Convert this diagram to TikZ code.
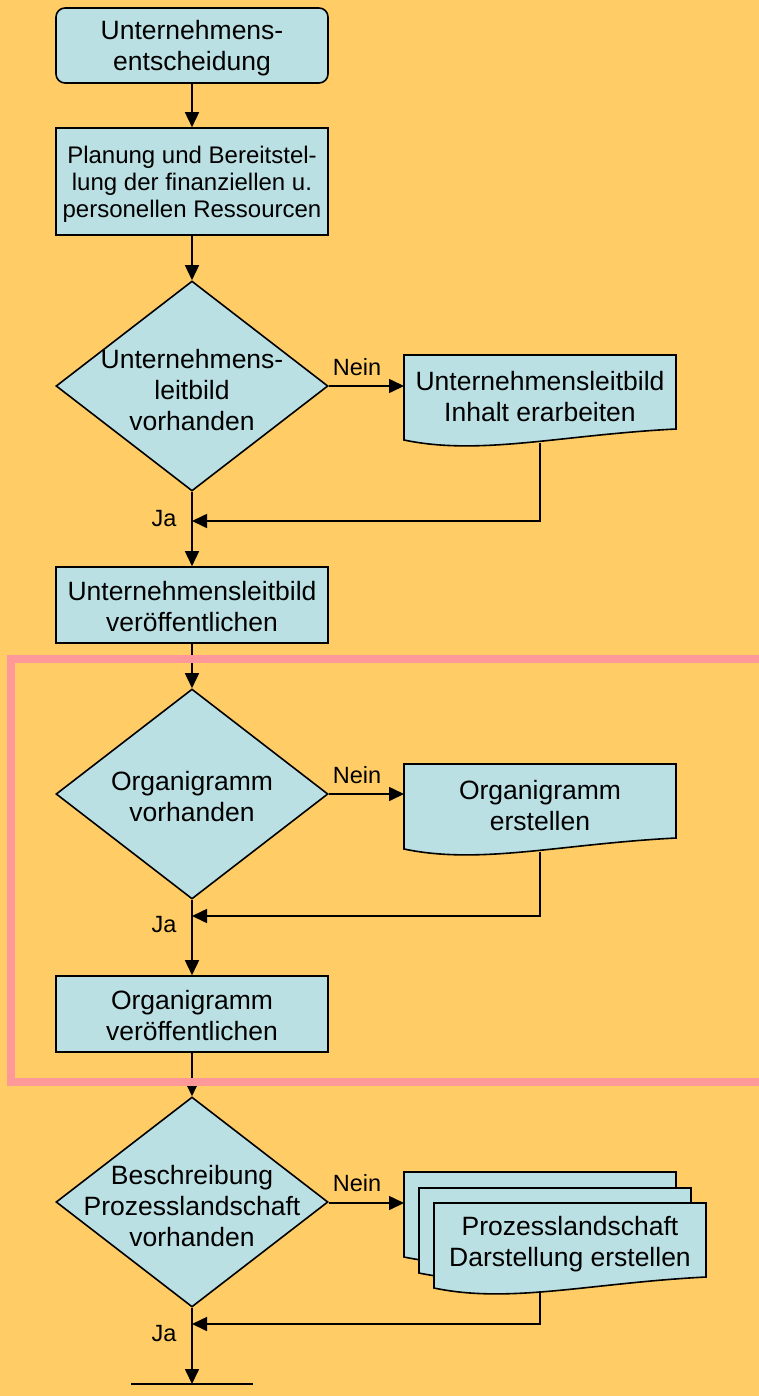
\documentclass[tikz,border=0pt]{standalone}
\usepackage{fontspec}
\setmainfont{Liberation Sans}
\usetikzlibrary{shapes.geometric,arrows.meta}
\definecolor{bgcol}{RGB}{255,204,102}
\definecolor{boxcol}{RGB}{187,224,227}
\definecolor{framecol}{RGB}{255,153,153}
\tikzset{
  big/.style={font=\fontsize{26.5}{31}\selectfont, align=center},
  small/.style={font=\fontsize{24}{27}\selectfont, align=center},
  lbl/.style={font=\fontsize{23.5}{27}\selectfont, inner sep=0pt},
  procbox/.style={draw=black, line width=1.6pt, fill=boxcol, minimum width=272pt, inner sep=0pt},
  startbox/.style={procbox, rounded corners=9pt},
  dia/.style={diamond, draw=black, line width=1.6pt, fill=boxcol, minimum width=272pt, minimum height=210pt, inner sep=0pt},
  docshape/.style={draw=black, line width=1.6pt, fill=boxcol},
  conn/.style={line width=1.6pt, -{Triangle[length=15pt,width=14pt]}},
  plain/.style={line width=1.6pt},
}
\newcommand{\docoutline}[2]{%
  \begin{scope}[shift={(#1,#2)}]
    \filldraw[docshape] (0,0) -- (272,0) -- (272,74) .. controls (156,80) and (76,101) .. (0,85) -- cycle;
  \end{scope}}
\begin{document}
\begin{tikzpicture}[x=1pt,y=-1pt]
\fill[bgcol] (0,0) rectangle (759,1396);
\useasboundingbox (0,0) rectangle (759,1396);

% top boxes
\node[startbox, minimum height=75pt] (n1) at (192,45.5) {};
\node[big] (n1t) at (192,48) {Unternehmens-\\entscheidung};
\node[procbox, minimum height=107pt] (n2) at (192,181.5) {};
\node[small] (n2t) at (192,184) {Planung und Bereitstel-\\lung der finanziellen u.\\personellen Ressourcen};

% decision 1
\node[dia] (q1) at (192,386) {};
\node[big] (q1t) at (192,390) {Unternehmens-\\leitbild\\vorhanden};
\docoutline{404}{355}
\node[big] (d1) at (540,397) {Unternehmensleitbild\\Inhalt erarbeiten};
\coordinate (d1in) at (404,386);
\coordinate (r1) at (540,521);
\coordinate (j1) at (192,521);
\node[procbox, minimum height=76pt] (b3) at (192,605) {};
\node[big] (b3t) at (192,607) {Unternehmensleitbild\\veröffentlichen};

% decision 2
\node[dia] (q2) at (192,794) {};
\node[big] (q2t) at (192,797) {Organigramm\\vorhanden};
\docoutline{404}{764}
\node[big] (d2) at (540,806) {Organigramm\\erstellen};
\coordinate (d2in) at (404,794);
\coordinate (r2) at (540,916);
\coordinate (j2) at (192,916);
\node[procbox, minimum height=76pt] (b4) at (192,1014) {};
\node[big] (b4t) at (192,1016) {Organigramm\\veröffentlichen};

% decision 3
\node[dia] (q3) at (192,1202) {};
\node[big] (q3t) at (192,1206) {Beschreibung\\Prozesslandschaft\\vorhanden};
\docoutline{404}{1172}
\docoutline{419}{1188}
\docoutline{434}{1203}
\node[big] (d3) at (570,1244) {Prozesslandschaft\\Darstellung erstellen};
\coordinate (d3in) at (404,1203);
\coordinate (r3) at (540,1324);
\coordinate (j3) at (192,1324);
\coordinate (endp) at (192,1384);
\coordinate (endl) at (131,1384);
\coordinate (endr) at (253,1384);

% connectors
\draw[conn] (n1.south) -- (n2.north);
\draw[conn] (n2.south) -- (q1.north);
\draw[conn] (q1.east) -- (d1in);
\draw[conn] (q1.south) -- (b3.north);
\draw[conn] (540,443) -- (r1) -- (j1);
\draw[conn] (b3.south) -- (q2.north);
\draw[conn] (q2.east) -- (d2in);
\draw[conn] (q2.south) -- (b4.north);
\draw[conn] (540,852) -- (r2) -- (j2);
\draw[conn] (b4.south) -- (q3.north);
\draw[conn] (q3.east |- d3in) -- (d3in);
\draw[conn] (q3.south) -- (endp);
\draw[conn] (540,1291) -- (r3) -- (j3);
\draw[plain] (endl) -- (endr);

% labels
\node[lbl] (nein1) at (357,367) {Nein};
\node[lbl] (ja1) at (164,519) {Ja};
\node[lbl] (nein2) at (357,775) {Nein};
\node[lbl] (ja2) at (164,925) {Ja};
\node[lbl] (nein3) at (357,1183) {Nein};
\node[lbl] (ja3) at (164,1334) {Ja};

% pink frame
\draw[framecol, line width=8pt] (780,659) -- (11,659) -- (11,1082) -- (780,1082);
\end{tikzpicture}
\end{document}
